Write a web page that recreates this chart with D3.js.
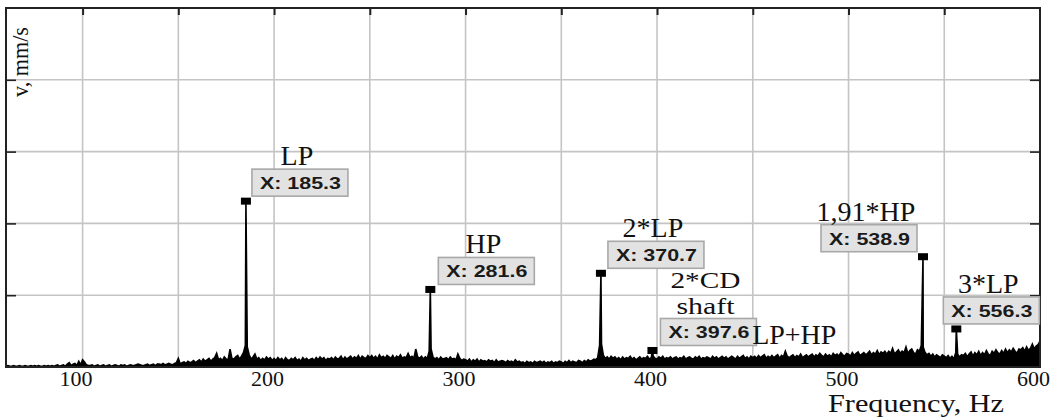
<!DOCTYPE html>
<html>
<head>
<meta charset="utf-8">
<script src="https://cdn.jsdelivr.net/npm/d3@7"></script>
<style>
  body { margin: 0; background: #fff; }
  svg { display: block; }
</style>
</head>
<body>
<svg id="chart" width="1052" height="419"></svg>
<script>
// ---- data -------------------------------------------------------------
const xGridHz = [100, 150, 200, 250, 300, 350, 400, 450, 500, 550, 600];
const xLabelHz = [100, 200, 300, 400, 500, 600];
const yGrid = [1, 2, 3, 4];

// background vibration level, one value per Hz from 60 Hz, in 0.01 mm/s
const noiseStartHz = 60;
const noiseLevel = [
  1,2,1,1,2,1,1,2,1,1,
  2,1,1,2,1,2,1,2,1,1,
  2,1,2,1,2,1,2,3,1,2,
  3,1,4,6,2,4,5,2,8,3,
  10,7,3,2,2,3,1,2,3,1,
  2,3,1,2,3,1,2,3,2,1,
  3,2,3,1,2,3,2,2,3,4,
  3,2,2,3,4,2,3,4,2,4,
  4,3,5,3,4,5,4,3,5,6,
  12,4,6,7,5,8,6,7,9,6,
  8,10,7,11,8,10,12,8,11,13,
  19,10,12,9,14,11,10,25,12,11,
  14,16,11,15,20,30,28,17,11,14,
  18,11,13,9,12,10,14,11,13,9,
  12,9,13,10,12,8,13,10,9,12,
  10,13,9,11,8,13,10,12,9,11,
  12,9,13,10,14,11,13,9,12,11,
  13,10,14,11,12,15,10,14,11,13,
  15,11,14,12,16,11,15,13,12,16,
  13,16,12,15,11,17,13,15,12,16,
  14,12,16,11,15,13,17,12,14,13,
  19,13,15,12,25,14,12,15,11,14,
  12,22,25,14,11,13,10,14,11,12,
  13,10,14,11,12,10,18,12,9,11,
  10,8,11,7,10,8,11,7,10,8,
  9,7,10,8,9,6,10,7,8,9,
  8,6,9,7,8,6,10,7,8,6,
  7,5,8,6,7,5,8,6,7,8,
  6,8,5,7,6,8,5,7,6,8,
  7,5,8,6,9,6,8,7,6,9,
  8,6,9,7,10,8,9,11,10,13,
  30,32,16,12,14,11,15,12,14,11,
  13,10,14,11,13,12,15,11,13,10,
  12,14,11,13,12,15,11,13,15,12,
  11,14,12,15,11,13,12,14,11,13,
  14,11,13,12,15,11,13,14,12,11,
  14,12,15,11,13,12,14,13,11,15,
  12,14,11,13,15,12,14,11,13,15,
  13,11,15,12,14,16,12,14,11,15,
  13,15,12,16,13,15,17,12,15,13,
  16,13,15,17,12,16,14,22,15,13,
  15,17,13,16,14,18,13,15,17,14,
  16,18,14,17,15,19,16,14,18,15,
  17,14,19,16,18,15,20,17,15,19,
  18,15,20,16,19,21,16,18,20,17,
  19,22,17,20,18,23,17,21,19,22,
  18,22,19,26,18,21,24,19,22,20,
  28,19,23,25,20,18,24,22,30,28,
  20,17,19,15,18,14,17,15,13,17,
  15,13,16,12,15,11,20,18,14,17,
  16,19,14,18,21,15,20,17,22,16,
  20,17,23,18,16,22,19,24,20,18,
  23,19,25,20,24,21,26,22,19,25,
  24,27,22,28,23,26,32,25,29,31,
  36
];

// identified spectral components (Hz, mm/s)
const peakFreq = [185.3, 281.6, 370.7, 397.6, 538.9, 556.3];
const peakAmp  = [2.31, 1.08, 1.305, 0.23, 1.536, 0.53];
const peakName = [["LP"], ["HP"], ["2*LP"], ["2*CD", "shaft"], ["1,91*HP"], ["3*LP"]];

const comboFreq = 466.9;
const comboName = "LP+HP";

// ---- layout -----------------------------------------------------------
const plot = { left: 6, top: 8, right: 1040, bottom: 367 };
// data tip box placement relative to its marker (px)
const tipDx = [6, 8, 7, 8, -102, -13];
const tipDy = -32;
const tipW = 96, tipH = 27;

const serif = "'Liberation Serif', 'Times New Roman', serif";
const sans = "'Liberation Sans', Arial, sans-serif";

const svg = d3.select("#chart");

const x = d3.scaleLinear().domain([60, 600]).range([plot.left, plot.right]);
const y = d3.scaleLinear().domain([0, 5]).range([plot.bottom, plot.top]);

// grid
const grid = svg.append("g");
grid.selectAll("line.vx").data(xGridHz.filter(d => d < 600)).enter().append("line")
  .attr("x1", d => x(d)).attr("x2", d => x(d))
  .attr("y1", plot.top).attr("y2", plot.bottom)
  .attr("stroke", "#c4c4c4").attr("stroke-width", 1.6);
grid.selectAll("line.hy").data(yGrid).enter().append("line")
  .attr("x1", plot.left).attr("x2", plot.right)
  .attr("y1", d => y(d)).attr("y2", d => y(d))
  .attr("stroke", "#c4c4c4").attr("stroke-width", 1.6);

// spectrum: background level plus the identified components
const spectrum = noiseLevel.map((v, i) => [noiseStartHz + i, v / 100]);
peakFreq.forEach((f, i) => spectrum.push([f, peakAmp[i]]));
spectrum.sort((a, b) => a[0] - b[0]);

const area = d3.area()
  .x(d => x(d[0])).y0(y(0)).y1(d => y(d[1]));
const line = d3.line().x(d => x(d[0])).y(d => y(d[1]));

svg.append("path").datum(spectrum).attr("d", area).attr("fill", "#000");
svg.append("path").datum(spectrum).attr("d", line)
  .attr("fill", "none").attr("stroke", "#000").attr("stroke-width", 1.6)
  .attr("stroke-linejoin", "miter");

// frame and ticks
const axTop = d3.axisTop(x).tickValues(xGridHz.filter(d => d < 600)).tickSize(-7).tickFormat("");
svg.append("g").attr("transform", `translate(0,${plot.top})`).call(axTop)
  .call(g => g.select(".domain").remove())
  .call(g => g.selectAll("line").attr("stroke", "#222").attr("stroke-width", 2));

const axLeft = d3.axisLeft(y).tickValues(yGrid).tickSize(-10).tickFormat("");
svg.append("g").attr("transform", `translate(${plot.left},0)`).call(axLeft)
  .call(g => g.select(".domain").remove())
  .call(g => g.selectAll("line").attr("stroke", "#222").attr("stroke-width", 1.6));

const axRight = d3.axisRight(y).tickValues(yGrid).tickSize(-10).tickFormat("");
svg.append("g").attr("transform", `translate(${plot.right},0)`).call(axRight)
  .call(g => g.select(".domain").remove())
  .call(g => g.selectAll("line").attr("stroke", "#222").attr("stroke-width", 1.6));

svg.append("rect")
  .attr("x", plot.left).attr("y", plot.top)
  .attr("width", plot.right - plot.left).attr("height", plot.bottom - plot.top)
  .attr("fill", "none").attr("stroke", "#222").attr("stroke-width", 2);

// x tick labels
const axBottom = d3.axisBottom(x).tickValues(xLabelHz).tickSize(0).tickFormat(d3.format("d"));
svg.append("g").attr("transform", `translate(0,${plot.bottom})`).call(axBottom)
  .call(g => g.select(".domain").remove())
  .call(g => g.selectAll("text")
    .attr("y", 19).attr("dy", 0).attr("dx", -7)
    .attr("font-family", serif).attr("font-size", 22).attr("fill", "#111"));

// axis titles
svg.append("text")
  .attr("x", 1004).attr("y", 412).attr("text-anchor", "end")
  .attr("font-family", serif).attr("font-size", 25).attr("fill", "#111")
  .attr("textLength", 176).attr("lengthAdjust", "spacingAndGlyphs")
  .text("Frequency, Hz");

svg.append("text")
  .attr("transform", "translate(28,97) rotate(-90)")
  .attr("font-family", serif).attr("font-size", 23).attr("fill", "#111")
  .attr("textLength", 70).attr("lengthAdjust", "spacingAndGlyphs")
  .text("v, mm/s");

// markers, data tips and labels
peakFreq.forEach((f, i) => {
  const px = x(f), py = y(peakAmp[i]);
  svg.append("rect")
    .attr("x", px - 5).attr("y", py - 3.5).attr("width", 10).attr("height", 7)
    .attr("fill", "#000");

  const bx = px + tipDx[i], by = py + tipDy;
  svg.append("rect")
    .attr("x", bx).attr("y", by).attr("width", tipW).attr("height", tipH)
    .attr("fill", "#e2e2e2").attr("stroke", "#a8a8a8").attr("stroke-width", 1.6);
  svg.append("text")
    .attr("x", bx + 8).attr("y", by + 20)
    .attr("font-family", sans).attr("font-weight", "bold").attr("font-size", 16)
    .attr("textLength", 81).attr("lengthAdjust", "spacingAndGlyphs")
    .attr("fill", "#1a1a1a")
    .text("X: " + f.toFixed(1));

  const lines = peakName[i];
  const multi = lines.length > 1;
  lines.forEach((t, k) => {
    svg.append("text")
      .attr("x", bx + tipW / 2 - 3)
      .attr("y", by - 4 - (lines.length - 1 - k) * 26)
      .attr("text-anchor", "middle")
      .attr("font-family", serif).attr("font-size", multi ? 23 : 28)
      .attr("textLength", multi ? (k === 0 ? 70 : 58) : null)
      .attr("lengthAdjust", "spacingAndGlyphs")
      .attr("fill", "#111")
      .text(t);
  });
});

svg.append("text")
  .attr("x", x(comboFreq) - 33).attr("y", 344)
  .attr("font-family", serif).attr("font-size", 28).attr("fill", "#111")
  .text(comboName);
</script>
</body>
</html>
